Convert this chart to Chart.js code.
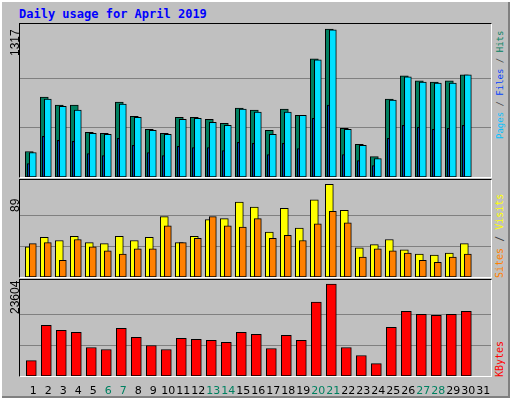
<!DOCTYPE html>
<html><head><meta charset="utf-8">
<script src="https://cdn.jsdelivr.net/npm/chart.js@4"></script>
<style>
body{margin:0;background:#fff}
#f{position:absolute;left:0;top:0;width:510px;height:398px;background:#c0c0c0;border-top:2px solid #fff;border-left:2px solid #fff;border-right:0;box-sizing:border-box;box-shadow:inset -2px -2px 0 #808080}
.p{position:absolute;border-top:1px solid #000;border-left:1px solid #000;border-right:1px solid #fff;border-bottom:1px solid #fff}
canvas{position:absolute}
.t{position:absolute;white-space:nowrap;font-family:"DejaVu Sans Mono",monospace}
.r{transform-origin:0 0;transform:rotate(-90deg)}
</style></head><body>
<div id="f"></div>
<div class="t" style="left:19px;top:7px;font-size:12px;font-weight:bold;color:#0000ff">Daily usage for April 2019</div>
<div class="p" style="left:19px;top:23px;width:471px;height:153px"></div>
<div class="p" style="left:19px;top:179px;width:471px;height:97px"></div>
<div class="p" style="left:19px;top:279px;width:471px;height:96px"></div>
<canvas id="c1" style="left:20px;top:24px;width:471px;height:153px"></canvas>
<canvas id="c2" style="left:20px;top:180px;width:471px;height:97px"></canvas>
<canvas id="c3" style="left:20px;top:280px;width:471px;height:120px"></canvas>
<div class="t r" style="left:8px;top:56px;font-family:'Liberation Sans',sans-serif;font-size:12px">1317</div>
<div class="t r" style="left:8px;top:212px;font-family:'Liberation Sans',sans-serif;font-size:12px">89</div>
<div class="t r" style="left:8px;top:314px;font-family:'Liberation Sans',sans-serif;font-size:12px">23604</div>
<div class="t r" style="left:495px;top:139px;font-size:9px"><span style="color:#00c0ff">Pages</span><span style="color:#404040"> / </span><span style="color:#0040ff">Files</span><span style="color:#404040"> / </span><span style="color:#008060">Hits</span></div>
<div class="t r" style="left:494px;top:278px;font-size:10px"><span style="color:#ff8000">Sites</span><span style="color:#404040"> / </span><span style="color:#ffff00">Visits</span></div>
<div class="t r" style="left:494px;top:377px;font-size:10px;color:#ff0000">KBytes</div>
<script>
const days = Array.from({length:31},(_,i)=>i+1);
const weekend = [6,7,13,14,20,21,27,28];
const hits  = [227,712,640,640,398,389,667,541,425,389,532,532,514,478,613,595,416,604,550,1052,1317,434,290,182,694,900,855,846,855,909];
const files = [218,694,628,595,389,380,649,532,416,380,514,523,487,460,604,577,380,577,550,1043,1310,425,281,164,685,891,846,837,837,909];
const pages = [120,362,326,317,209,191,344,281,218,191,272,263,263,236,308,299,200,299,254,523,640,200,147,102,344,460,443,425,434,460];
const visits= [29,38,35,39,33,32,39,35,38,58,33,39,55,56,72,67,43,66,47,74,89,64,28,31,36,26,22,21,23,32];
const sites = [32,33,16,36,29,25,22,27,27,49,33,37,58,49,48,56,37,40,35,51,63,52,19,27,25,23,16,14,19,22];
const kbytes= [3961,13001,11710,11193,7319,6802,12227,9902,7836,6802,9644,9385,9127,8610,11193,10676,7060,10418,9127,18942,23604,7319,5252,3186,12485,16617,15842,15584,15842,16617];
const maxHits=1317, maxVisits=89, maxKB=23604;

function ds(vals, shift, color, w, order){
  return {data: vals.map((v,i)=>({x:days[i]+shift,y:v})), backgroundColor:color, borderColor:'#000', borderWidth:1, barThickness:w, borderSkipped:false, grouped:false, order:order};
}
function opts(ymax, top, padBottom){
  return {responsive:false, animation:false, devicePixelRatio:1,
    layout:{padding:{bottom:padBottom||0}},
    plugins:{legend:{display:false},tooltip:{enabled:false}},
    scales:{
      x:{type:'linear',min:0.113,max:31.51,offset:false,display:false},
      y:{min:0,max:ymax,display:true,border:{display:false},ticks:{display:false},
         grid:{color:'#808080',drawTicks:false,lineWidth:1},
         afterBuildTicks:s=>{s.ticks=[{value:top/3},{value:2*top/3}]}}
    }};
}
function mk(id,w,h,datasets,o,plugins){
  const c=document.getElementById(id); c.width=w; c.height=h;
  return new Chart(c,{type:'bar',data:{datasets},options:o,plugins:plugins||[]});
}
mk('c1',471,153,[ds(pages,-0.333,'#0040ff',2,1),ds(files,-0.033,'#00e0ff',7,2),ds(hits,-0.267,'#008060',8,3)], opts(1362,maxHits));
mk('c2',471,97,[ds(sites,-0.033,'#ff8000',7,1),ds(visits,-0.267,'#ffff00',8,2)], opts(93.1,maxVisits));
const labelPlugin={id:'lbl',afterDraw(ch){
  const ctx=ch.ctx, xs=ch.scales.x; ctx.save();
  ctx.font='11px "DejaVu Sans", sans-serif'; ctx.textAlign='center'; ctx.textBaseline='alphabetic';
  days.forEach(d=>{ctx.fillStyle=weekend.includes(d)?'#008060':'#000';
    ctx.fillText(String(d), xs.getPixelForValue(d), ch.chartArea.bottom+18);});
  ctx.restore();}};
mk('c3',471,120,[ds(kbytes,-0.133,'#ff0000',10,1)], opts(24637,maxKB,24),[labelPlugin]);
</script></body></html>
